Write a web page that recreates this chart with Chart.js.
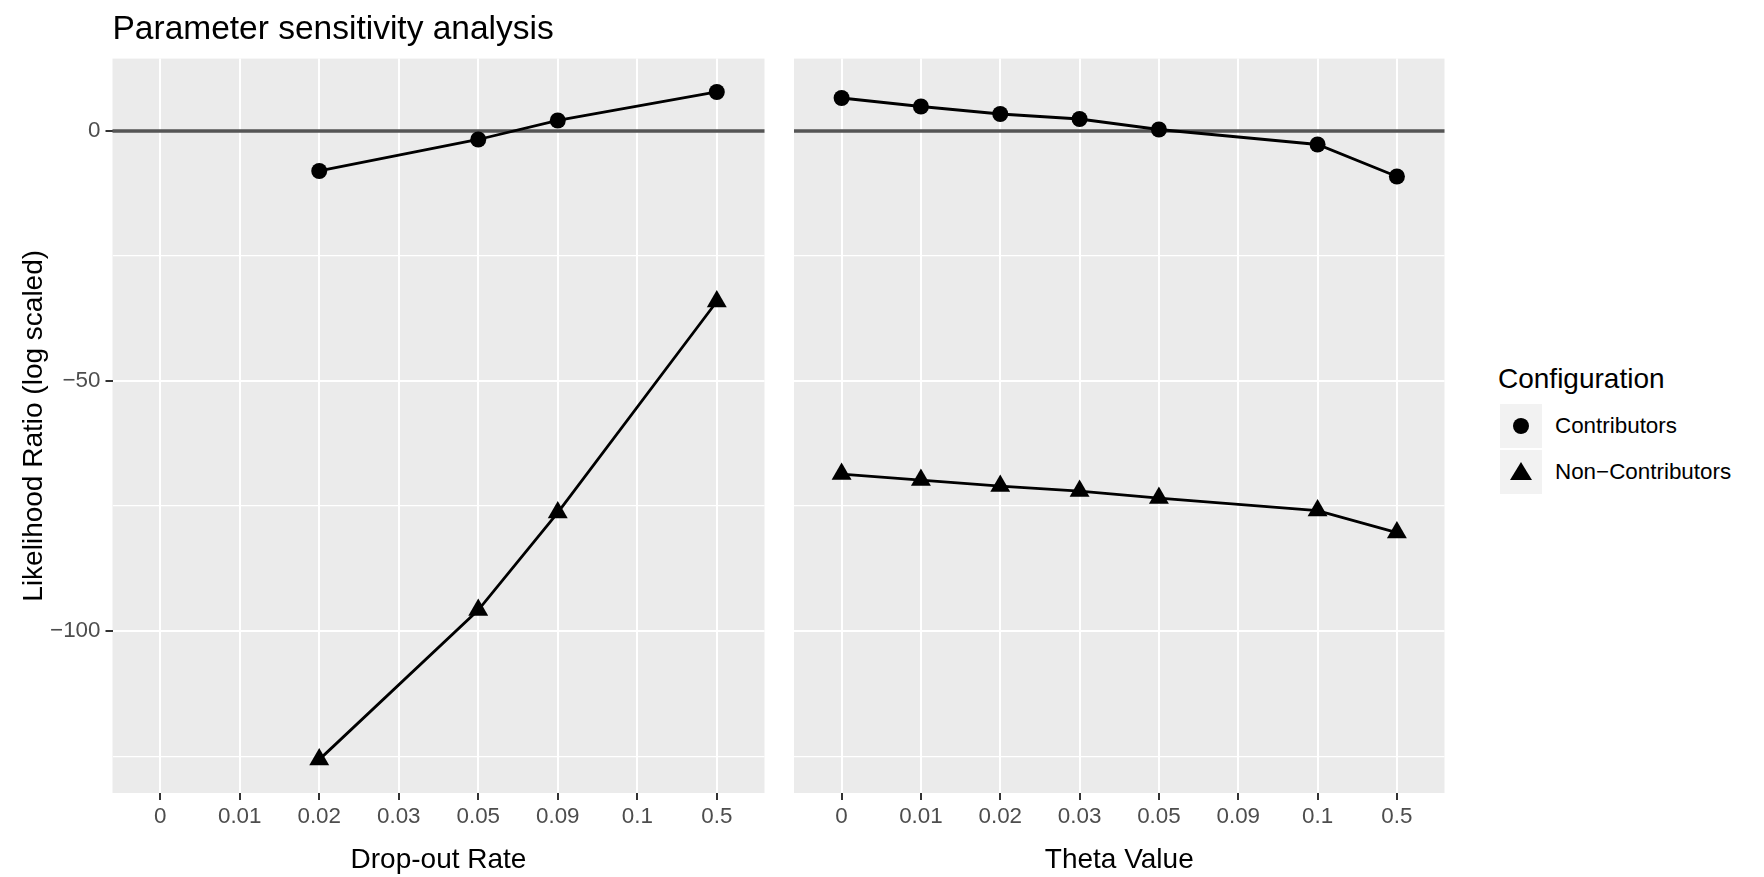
<!DOCTYPE html>
<html><head><meta charset="utf-8">
<script src="https://cdn.jsdelivr.net/npm/chart.js@4.4.1/dist/chart.umd.min.js"></script>
<style>
html,body{margin:0;padding:0;background:#fff;width:1764px;height:877px;overflow:hidden;font-family:"Liberation Sans",Arial,sans-serif;}
canvas{position:absolute;top:0;}
#left{left:0;}
#right{left:776px;}
.lg{position:absolute;color:#000;white-space:nowrap;}
.lgTitle{font-size:28px;line-height:28px;}
.key{position:absolute;background:#F2F2F2;width:42px;height:44px;}
.dot{position:absolute;left:13px;top:14px;width:16px;height:16px;border-radius:50%;background:#000;}
.tri{position:absolute;left:10px;top:12px;width:0;height:0;border-left:11px solid transparent;border-right:11px solid transparent;border-bottom:18px solid #000;}
.lab{position:absolute;font-size:22.4px;line-height:44px;color:#000;}
</style></head>
<body>
<canvas id="left" width="776" height="877"></canvas>
<canvas id="right" width="680" height="877"></canvas>
<div id="legend"></div>
<script>
const categories = ['0','0.01','0.02','0.03','0.05','0.09','0.1','0.5'];
const dropContributors    = [null, null, -8.0,   null, -1.7,  2.1,  null, 7.8];
const dropNonContributors = [null, null, -125.7, null, -95.8, -76.3, null, -34.1];
const thetaContributors    = [6.6, 4.9, 3.4, 2.4, 0.3, null, -2.7, -9.1];
const thetaNonContributors = [-68.6, -69.8, -71.0, -72.0, -73.4, null, -75.9, -80.3];
const yTickValues = [-125, -100, -75, -50, -25, 0];
const yLabelValues = [-100, -50, 0];
const seriesNames = ['Contributors', 'Non\u2212Contributors'];
const panelTitles = ['Drop-out Rate', 'Theta Value'];
const chartTitle = 'Parameter sensitivity analysis';
const yTitle = 'Likelihood Ratio (log scaled)';
const legendTitle = 'Configuration';
const referenceLineValue = 0;

const FONT = '"Liberation Sans", Arial, sans-serif';
const allVals = [].concat(dropContributors, dropNonContributors, thetaContributors, thetaNonContributors).filter(v => v !== null);
const dMin = Math.min(...allVals), dMax = Math.max(...allVals);
const ySpan = dMax - dMin;
const yMin = dMin - 0.05 * ySpan, yMax = dMax + 0.05 * ySpan;

const titleSize = 33.5, titlePadTop = 10, titlePadBottom = 8.4;
const topPad = titleSize * 1.2 + titlePadTop + titlePadBottom;

const panelBg = {
  id: 'panelBg',
  beforeDraw(chart) {
    const a = chart.chartArea, c = chart.ctx;
    c.save(); c.fillStyle = '#EBEBEB';
    c.fillRect(a.left, a.top, a.right - a.left, a.bottom - a.top);
    c.restore();
  }
};
const refLine = {
  id: 'refLine',
  beforeDatasetsDraw(chart) {
    const a = chart.chartArea, c = chart.ctx;
    const y = chart.scales.y.getPixelForValue(referenceLineValue);
    c.save(); c.strokeStyle = '#555555'; c.lineWidth = 3.5;
    c.beginPath(); c.moveTo(a.left, y); c.lineTo(a.right, y); c.stroke();
    c.restore();
  }
};

function makeDatasets(contrib, nonContrib) {
  return [
    { label: seriesNames[0], data: contrib.map((v, i) => ({x: i + 1, y: v})), pointStyle: 'circle', pointRadius: 8 },
    { label: seriesNames[1], data: nonContrib.map((v, i) => ({x: i + 1, y: v})), pointStyle: 'triangle', pointRadius: 11.5 }
  ].map(d => Object.assign(d, {
    borderColor: '#000', borderWidth: 2.8, pointBackgroundColor: '#000',
    pointBorderWidth: 0, pointHoverRadius: d.pointRadius, spanGaps: true, fill: false, tension: 0
  }));
}

function makeChart(id, contrib, nonContrib, xTitle, isLeft) {
  return new Chart(document.getElementById(id), {
    type: 'line',
    data: { datasets: makeDatasets(contrib, nonContrib) },
    options: {
      responsive: false, animation: false, events: [],
      layout: { padding: { top: isLeft ? 0 : topPad, left: isLeft ? 0 : 18, right: 0, bottom: 0 } },
      plugins: {
        legend: { display: false }, tooltip: { enabled: false },
        title: {
          display: isLeft, text: chartTitle, align: 'start', fullSize: false, color: '#000',
          font: { family: FONT, size: titleSize, weight: 'normal', lineHeight: 1.2 },
          padding: { top: titlePadTop, bottom: titlePadBottom }
        }
      },
      scales: {
        x: {
          type: 'linear', min: 0.4, max: categories.length + 0.6,
          afterBuildTicks: s => { s.ticks = categories.map((c, i) => ({ value: i + 1 })); },
          afterFit: s => { s.height = 84; },
          ticks: {
            autoSkip: false, maxRotation: 0, padding: 3, color: '#4D4D4D',
            font: { family: FONT, size: 22.4, lineHeight: 1.2 },
            callback: v => categories[Math.round(v) - 1]
          },
          grid: { color: '#FFFFFF', lineWidth: 2, tickColor: '#333333', tickLength: 7, tickWidth: 2 },
          border: { display: false },
          title: { display: true, text: xTitle, color: '#000', padding: { top: 0, bottom: 0 },
                   font: { family: FONT, size: 28, lineHeight: 1.2 } }
        },
        y: {
          type: 'linear', min: yMin, max: yMax,
          afterBuildTicks: s => { s.ticks = yTickValues.map(v => ({ value: v })); },
          afterFit: s => { s.width = isLeft ? 112.5 : 0; },
          ticks: {
            display: isLeft, autoSkip: false, padding: 5, color: '#4D4D4D',
            font: { family: FONT, size: 22.4, lineHeight: 1.2 },
            callback: v => yLabelValues.includes(v) ? (v < 0 ? '\u2212' + Math.abs(v) : String(v)) : ''
          },
          grid: {
            color: '#FFFFFF',
            lineWidth: c => yLabelValues.includes(c.tick.value) ? 2 : 1.2,
            drawTicks: isLeft,
            tickColor: c => yLabelValues.includes(c.tick.value) ? '#333333' : 'rgba(0,0,0,0)',
            tickLength: 7, tickWidth: 2
          },
          border: { display: false },
          title: { display: isLeft, text: yTitle, color: '#000', padding: { top: 17, bottom: 0 },
                   font: { family: FONT, size: 28, lineHeight: 1.2 } }
        }
      }
    },
    plugins: [panelBg, refLine]
  });
}

makeChart('left', dropContributors, dropNonContributors, panelTitles[0], true);
makeChart('right', thetaContributors, thetaNonContributors, panelTitles[1], false);

// legend
const lg = document.getElementById('legend');
const t = document.createElement('div');
t.className = 'lg lgTitle'; t.style.left = '1498px'; t.style.top = '365px'; t.textContent = legendTitle;
lg.appendChild(t);
seriesNames.forEach((name, i) => {
  const top = 404 + i * 46;
  const k = document.createElement('div');
  k.className = 'key'; k.style.left = '1500px'; k.style.top = top + 'px';
  const m = document.createElement('div'); m.className = i === 0 ? 'dot' : 'tri';
  k.appendChild(m); lg.appendChild(k);
  const l = document.createElement('div');
  l.className = 'lab'; l.style.left = '1555px'; l.style.top = top + 'px'; l.textContent = name;
  lg.appendChild(l);
});
</script>
</body></html>
